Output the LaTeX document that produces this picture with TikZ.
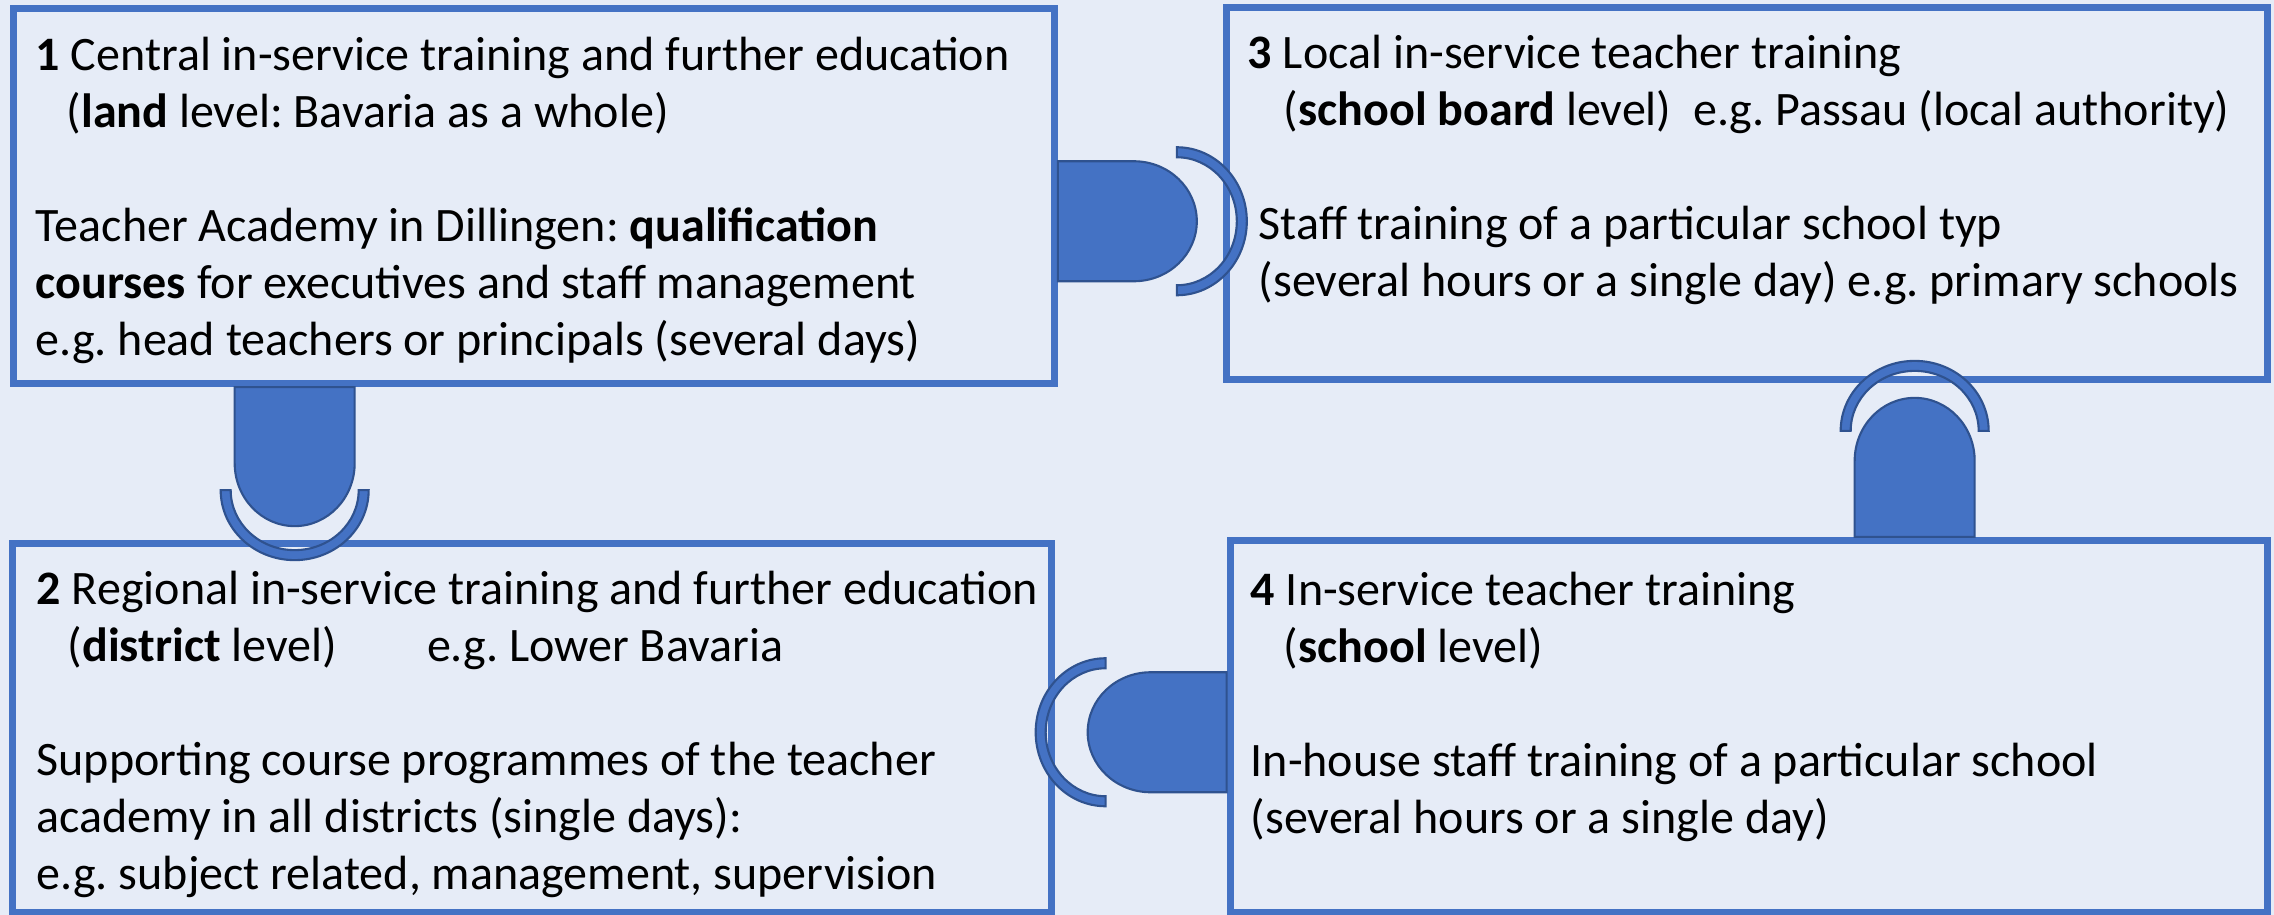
\documentclass[tikz,border=0pt]{standalone}
\usepackage{fontspec}
\setmainfont{Carlito}
\usetikzlibrary{calc}
\frenchspacing

\definecolor{bgblue}{HTML}{E6ECF7}
\definecolor{boxblue}{HTML}{4472C4}
\definecolor{plugline}{HTML}{2F528F}

\tikzset{
  plug/.pic={
    \draw[plugpart] (0,-60) -- (76,-60) arc[start angle=-90, end angle=90, x radius=63, y radius=60] -- (0,60) -- cycle;
    \draw[plugpart] (#1,-74) arc[start angle=-90, end angle=90, x radius=70, y radius=74]
      -- (#1,64) arc[start angle=90, end angle=-90, x radius=60, y radius=64] -- cycle;
  }
}

\begin{document}
\begin{tikzpicture}[x=0.01cm, y=-0.01cm,
          box/.style = {draw=boxblue, line width=2pt, inner sep=0pt},
          txt/.style = {anchor=base west, align=left, inner sep=0pt,
                        font=\fontsize{13.66pt}{16.2pt}\selectfont},
          plugpart/.style = {fill=boxblue, draw=plugline, line width=0.6pt}]
        \useasboundingbox (0,0) rectangle (2274,915);
        \fill[bgblue] (0,0) rectangle (2274,915);
        % the four levels
        \node[box, minimum width=10.405cm, minimum height=3.745cm] (b1) at (533.75,196.25) {};
        \node[box, minimum width=10.38cm, minimum height=3.685cm] (b2) at (532,727.75) {};
        \node[box, minimum width=10.40cm, minimum height=3.71cm] (b3) at (1747,193.5) {};
        \node[box, minimum width=10.365cm, minimum height=3.715cm] (b4) at (1748.75,726.25) {};
        % texts sit on the base line of their last line
        \node[txt] (t1) at (35,355) {\textbf{1} Central in-service training and further education\\
          \hspace*{0.31cm}(\textbf{land} level: Bavaria as a whole)\\[0.57cm]
          Teacher Academy in Dillingen: \textbf{qualification}\\
          \textbf{courses} for executives and staff management\\
          e.g. head teachers or principals (several days)};
        \node[txt] (t2) at (36,889) {\textbf{2} Regional in-service training and further education\\
          \hspace*{0.31cm}(\textbf{district} level)\hspace{0.9cm}e.g. Lower Bavaria\\[0.57cm]
          Supporting course programmes of the teacher\\
          academy in all districts (single days):\\
          e.g. subject related, management, supervision};
        \node[txt] (t3) at (1247,296) {\textbf{3} Local in-service teacher training\\
          \hspace*{0.36cm}(\textbf{school board} level)~ e.g. Passau (local authority)\\[0.57cm]
          \hspace*{0.11cm}Staff training of a particular school typ\\
          \hspace*{0.11cm}(several hours or a single day) e.g. primary schools};
        \node[txt] (t4) at (1250,833) {\textbf{4} In-service teacher training\\
          \hspace*{0.33cm}(\textbf{school} level)\\[0.57cm]
          In-house staff training of a particular school\\
          (several hours or a single day)};
        % plugs between the levels
        \pic at ($(b1.east)+(0,25)$) {plug=119};
        \pic[rotate=-90] at ($(b1.south west)+(285,0)$) {plug=103};
        \pic[rotate=90] at ($(b4.north west)+(688,0)$) {plug=106};
        \pic[rotate=180] at ($(b4.west)+(0,6)$) {plug=121};
\end{tikzpicture}
\end{document}
